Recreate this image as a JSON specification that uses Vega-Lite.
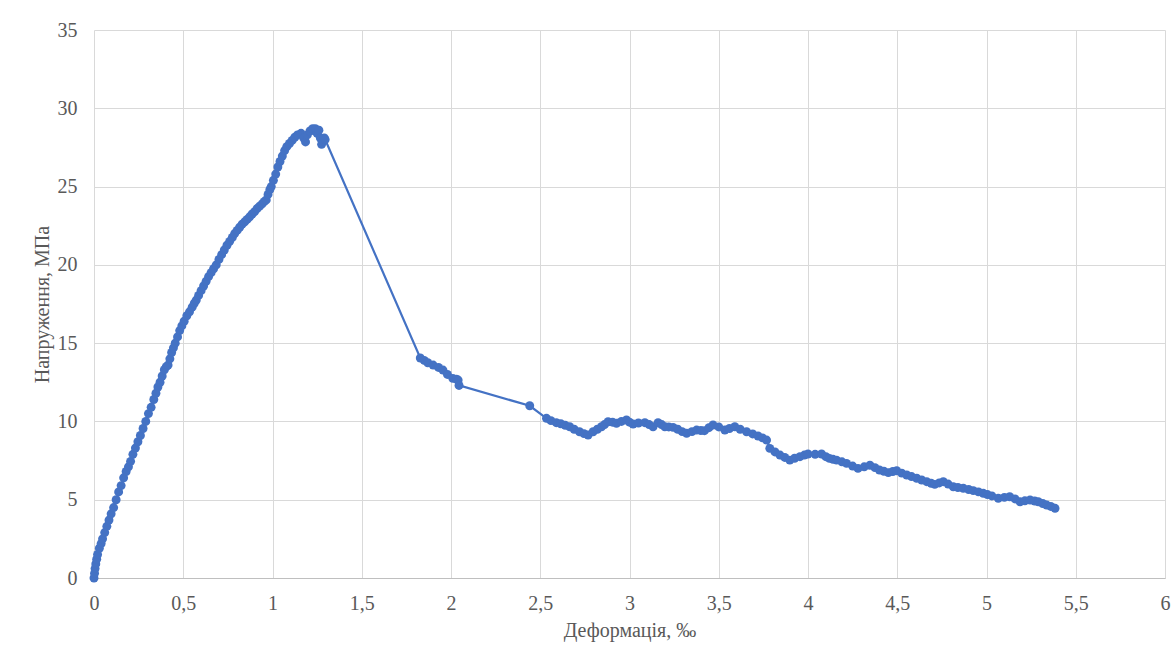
{
  "$schema": "https://vega.github.io/schema/vega-lite/v6.json",
  "width": 1071,
  "height": 548,
  "autosize": "none",
  "padding": {"left": 94, "top": 30, "right": 10, "bottom": 79},
  "background": "white",
  "config": {
    "view": {"stroke": null},
    "font": "Liberation Serif",
    "axis": {
      "labelFont": "Liberation Serif",
      "titleFont": "Liberation Serif",
      "labelFontSize": 20,
      "titleFontSize": 20,
      "labelColor": "#595959",
      "titleColor": "#595959",
      "titleFontWeight": "normal",
      "gridColor": "#d9d9d9",
      "gridWidth": 1,
      "ticks": false
    }
  },
  "data": {
    "values": [
      {"x": 0, "y": 0}, {"x": 0.003, "y": 0.3}, {"x": 0.006, "y": 0.6}, {"x": 0.01, "y": 0.9}, {"x": 0.015, "y": 1.2},
      {"x": 0.02, "y": 1.5}, {"x": 0.03, "y": 1.9}, {"x": 0.04, "y": 2.2}, {"x": 0.048, "y": 2.5}, {"x": 0.06, "y": 2.9},
      {"x": 0.072, "y": 3.3}, {"x": 0.084, "y": 3.7}, {"x": 0.096, "y": 4.1}, {"x": 0.11, "y": 4.5}, {"x": 0.124, "y": 5.0},
      {"x": 0.138, "y": 5.5}, {"x": 0.152, "y": 5.9}, {"x": 0.166, "y": 6.4}, {"x": 0.18, "y": 6.8}, {"x": 0.193, "y": 7.1},
      {"x": 0.205, "y": 7.45}, {"x": 0.218, "y": 7.9}, {"x": 0.232, "y": 8.3}, {"x": 0.246, "y": 8.7}, {"x": 0.26, "y": 9.1},
      {"x": 0.275, "y": 9.55}, {"x": 0.29, "y": 10.0}, {"x": 0.305, "y": 10.5}, {"x": 0.32, "y": 10.9}, {"x": 0.335, "y": 11.4},
      {"x": 0.347, "y": 11.8}, {"x": 0.358, "y": 12.2}, {"x": 0.37, "y": 12.5}, {"x": 0.382, "y": 12.9}, {"x": 0.394, "y": 13.3},
      {"x": 0.405, "y": 13.5}, {"x": 0.415, "y": 13.6}, {"x": 0.425, "y": 14.0}, {"x": 0.435, "y": 14.4}, {"x": 0.445, "y": 14.7},
      {"x": 0.455, "y": 15.0}, {"x": 0.468, "y": 15.4}, {"x": 0.48, "y": 15.8}, {"x": 0.492, "y": 16.1}, {"x": 0.505, "y": 16.4},
      {"x": 0.52, "y": 16.75}, {"x": 0.535, "y": 17.0}, {"x": 0.55, "y": 17.3}, {"x": 0.562, "y": 17.55}, {"x": 0.573, "y": 17.75},
      {"x": 0.586, "y": 18.05}, {"x": 0.6, "y": 18.35}, {"x": 0.614, "y": 18.65}, {"x": 0.628, "y": 18.95}, {"x": 0.642, "y": 19.25},
      {"x": 0.656, "y": 19.5}, {"x": 0.67, "y": 19.75}, {"x": 0.685, "y": 20.0}, {"x": 0.7, "y": 20.35}, {"x": 0.715, "y": 20.65},
      {"x": 0.73, "y": 20.95}, {"x": 0.745, "y": 21.25}, {"x": 0.76, "y": 21.5}, {"x": 0.775, "y": 21.75}, {"x": 0.788, "y": 22.0},
      {"x": 0.802, "y": 22.2}, {"x": 0.816, "y": 22.4}, {"x": 0.83, "y": 22.6}, {"x": 0.844, "y": 22.75}, {"x": 0.858, "y": 22.9},
      {"x": 0.872, "y": 23.07}, {"x": 0.886, "y": 23.25}, {"x": 0.9, "y": 23.4}, {"x": 0.914, "y": 23.6}, {"x": 0.928, "y": 23.75},
      {"x": 0.942, "y": 23.9}, {"x": 0.955, "y": 24.05}, {"x": 0.965, "y": 24.15}, {"x": 0.975, "y": 24.5}, {"x": 0.985, "y": 24.8},
      {"x": 0.993, "y": 25.0}, {"x": 1.005, "y": 25.4}, {"x": 1.018, "y": 25.8}, {"x": 1.03, "y": 26.25}, {"x": 1.042, "y": 26.6},
      {"x": 1.055, "y": 26.95}, {"x": 1.068, "y": 27.3}, {"x": 1.08, "y": 27.55}, {"x": 1.095, "y": 27.75}, {"x": 1.11, "y": 27.95},
      {"x": 1.125, "y": 28.15}, {"x": 1.14, "y": 28.3}, {"x": 1.16, "y": 28.4}, {"x": 1.175, "y": 28.1}, {"x": 1.185, "y": 27.85},
      {"x": 1.195, "y": 28.3}, {"x": 1.21, "y": 28.55}, {"x": 1.225, "y": 28.7}, {"x": 1.24, "y": 28.7}, {"x": 1.25, "y": 28.4},
      {"x": 1.26, "y": 28.6}, {"x": 1.268, "y": 28.1}, {"x": 1.275, "y": 27.7}, {"x": 1.283, "y": 27.9}, {"x": 1.29, "y": 28.1},
      {"x": 1.295, "y": 28.0},
      {"x": 1.828, "y": 14.05}, {"x": 1.85, "y": 13.9}, {"x": 1.87, "y": 13.75}, {"x": 1.9, "y": 13.6}, {"x": 1.93, "y": 13.45},
      {"x": 1.955, "y": 13.28}, {"x": 1.98, "y": 13.0}, {"x": 2.01, "y": 12.75}, {"x": 2.03, "y": 12.7}, {"x": 2.04, "y": 12.64},
      {"x": 2.045, "y": 12.3},
      {"x": 2.441, "y": 11.0},
      {"x": 2.535, "y": 10.2}, {"x": 2.56, "y": 10.05}, {"x": 2.59, "y": 9.92}, {"x": 2.615, "y": 9.85}, {"x": 2.64, "y": 9.75},
      {"x": 2.665, "y": 9.66}, {"x": 2.69, "y": 9.5}, {"x": 2.72, "y": 9.34}, {"x": 2.745, "y": 9.22}, {"x": 2.768, "y": 9.13},
      {"x": 2.796, "y": 9.34}, {"x": 2.82, "y": 9.5}, {"x": 2.843, "y": 9.66}, {"x": 2.86, "y": 9.8}, {"x": 2.88, "y": 9.98},
      {"x": 2.905, "y": 9.95}, {"x": 2.927, "y": 9.88}, {"x": 2.955, "y": 10.0}, {"x": 2.983, "y": 10.09}, {"x": 3.0, "y": 9.95},
      {"x": 3.02, "y": 9.83}, {"x": 3.05, "y": 9.9}, {"x": 3.086, "y": 9.92}, {"x": 3.11, "y": 9.8}, {"x": 3.132, "y": 9.66},
      {"x": 3.16, "y": 9.92}, {"x": 3.18, "y": 9.8}, {"x": 3.198, "y": 9.66}, {"x": 3.22, "y": 9.65}, {"x": 3.244, "y": 9.62},
      {"x": 3.27, "y": 9.5}, {"x": 3.295, "y": 9.35}, {"x": 3.32, "y": 9.24}, {"x": 3.35, "y": 9.35}, {"x": 3.376, "y": 9.45},
      {"x": 3.4, "y": 9.42}, {"x": 3.42, "y": 9.41}, {"x": 3.445, "y": 9.6}, {"x": 3.468, "y": 9.77}, {"x": 3.5, "y": 9.65},
      {"x": 3.534, "y": 9.45}, {"x": 3.56, "y": 9.55}, {"x": 3.59, "y": 9.66}, {"x": 3.62, "y": 9.5}, {"x": 3.656, "y": 9.34},
      {"x": 3.69, "y": 9.2}, {"x": 3.72, "y": 9.07}, {"x": 3.745, "y": 8.95}, {"x": 3.768, "y": 8.81}, {"x": 3.786, "y": 8.28},
      {"x": 3.815, "y": 8.05}, {"x": 3.843, "y": 7.85}, {"x": 3.87, "y": 7.7}, {"x": 3.898, "y": 7.53}, {"x": 3.925, "y": 7.65},
      {"x": 3.955, "y": 7.75}, {"x": 3.98, "y": 7.85}, {"x": 4.0, "y": 7.92}, {"x": 4.04, "y": 7.9}, {"x": 4.076, "y": 7.92},
      {"x": 4.1, "y": 7.75}, {"x": 4.12, "y": 7.64}, {"x": 4.14, "y": 7.58}, {"x": 4.16, "y": 7.53}, {"x": 4.19, "y": 7.42},
      {"x": 4.216, "y": 7.32}, {"x": 4.25, "y": 7.15}, {"x": 4.28, "y": 7.0}, {"x": 4.315, "y": 7.1}, {"x": 4.347, "y": 7.2},
      {"x": 4.375, "y": 7.05}, {"x": 4.4, "y": 6.9}, {"x": 4.425, "y": 6.82}, {"x": 4.45, "y": 6.73}, {"x": 4.475, "y": 6.8},
      {"x": 4.497, "y": 6.85}, {"x": 4.525, "y": 6.7}, {"x": 4.553, "y": 6.58}, {"x": 4.58, "y": 6.48}, {"x": 4.609, "y": 6.37},
      {"x": 4.637, "y": 6.26}, {"x": 4.665, "y": 6.15}, {"x": 4.69, "y": 6.05}, {"x": 4.71, "y": 5.98}, {"x": 4.735, "y": 6.07},
      {"x": 4.758, "y": 6.15}, {"x": 4.785, "y": 6.0}, {"x": 4.814, "y": 5.83}, {"x": 4.84, "y": 5.78}, {"x": 4.87, "y": 5.73},
      {"x": 4.9, "y": 5.65}, {"x": 4.926, "y": 5.58}, {"x": 4.955, "y": 5.5}, {"x": 4.982, "y": 5.41}, {"x": 5.005, "y": 5.33},
      {"x": 5.03, "y": 5.24}, {"x": 5.066, "y": 5.09}, {"x": 5.1, "y": 5.15}, {"x": 5.13, "y": 5.19}, {"x": 5.16, "y": 5.05},
      {"x": 5.188, "y": 4.87}, {"x": 5.215, "y": 4.93}, {"x": 5.244, "y": 4.98}, {"x": 5.27, "y": 4.92}, {"x": 5.29, "y": 4.87},
      {"x": 5.315, "y": 4.76}, {"x": 5.337, "y": 4.66}, {"x": 5.36, "y": 4.57}, {"x": 5.384, "y": 4.45}
    ]
  },
  "encoding": {
    "x": {
      "field": "x",
      "type": "quantitative",
      "scale": {"domain": [0, 6], "nice": false},
      "axis": {
        "title": "Деформація, ‰",
        "values": [0, 0.5, 1, 1.5, 2, 2.5, 3, 3.5, 4, 4.5, 5, 5.5, 6],
        "labelExpr": "replace(format(datum.value, ''), '.', ',')",
        "labelPadding": 15,
        "titlePadding": 7,
        "domain": true,
        "domainColor": "#bfbfbf",
        "domainWidth": 1,
        "labelFlush": false
      }
    },
    "y": {
      "field": "y",
      "type": "quantitative",
      "scale": {"domain": [0, 35], "nice": false},
      "axis": {
        "title": "Напруження, МПа",
        "values": [0, 5, 10, 15, 20, 25, 30, 35],
        "labelPadding": 17,
        "titlePadding": 5,
        "domain": false
      }
    }
  },
  "layer": [
    {
      "mark": {"type": "line", "color": "#4472C4", "strokeWidth": 2.2}
    },
    {
      "mark": {"type": "point", "filled": true, "color": "#4472C4", "size": 80, "opacity": 1}
    }
  ]
}
